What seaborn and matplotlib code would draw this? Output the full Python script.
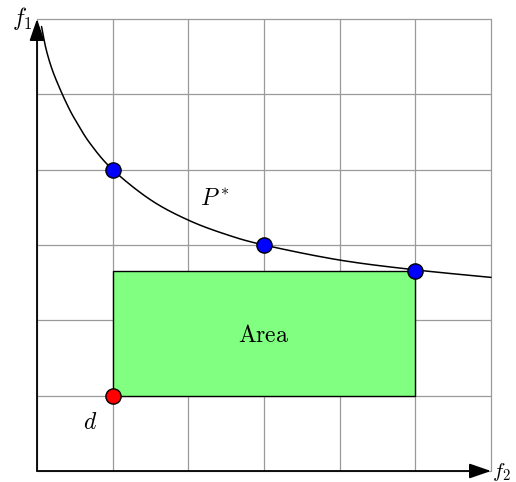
import numpy as np
import pandas as pd
import matplotlib
matplotlib.use("Agg")
import matplotlib.pyplot as plt
from matplotlib.patches import Rectangle
import seaborn as sns

# Pareto front P* (f2, f1)
front_f2 = [0.06, 0.12, 0.2, 0.3, 0.4, 0.5, 0.7, 1.0, 1.5, 2.0, 2.5, 3.0, 4.0, 5.0, 6.0]
front_f1 = [5.9, 5.6, 5.33, 5.08, 4.86, 4.67, 4.35, 4.0, 3.6, 3.33, 3.14, 3.0, 2.8, 2.67, 2.57]

# highlighted solutions on the front
sol_f2 = [1.0, 3.0, 5.0]
sol_f1 = [4.0, 3.0, 2.65]

# reference point d
ref_f2 = [1.0]
ref_f1 = [1.0]

grid_ticks = [0, 1, 2, 3, 4, 5, 6]


def catmull_rom(xs, ys, n=20):
    """Smooth polyline through the given points."""
    p = np.column_stack([xs, ys]).astype(float)
    p = np.vstack([2 * p[0] - p[1], p, 2 * p[-1] - p[-2]])
    out = []
    for i in range(1, len(p) - 2):
        p0, p1, p2, p3 = p[i - 1], p[i], p[i + 1], p[i + 2]
        t = np.linspace(0, 1, n, endpoint=False)[:, None]
        seg = 0.5 * ((2 * p1) + (-p0 + p2) * t + (2 * p0 - 5 * p1 + 4 * p2 - p3) * t ** 2
                     + (-p0 + 3 * p1 - 3 * p2 + p3) * t ** 3)
        out.append(seg)
    out.append(p[-2][None, :])
    out = np.vstack(out)
    return out[:, 0], out[:, 1]


sns.set_theme(style="white")
plt.rcParams["mathtext.fontset"] = "cm"
plt.rcParams["font.family"] = ["DejaVu Serif"]
plt.rcParams["text.color"] = "black"

fig = plt.figure(figsize=(5.16, 4.82), dpi=100)
ax = fig.add_axes([37 / 516, 11 / 482, 454 / 516, 452 / 482])
ax.set_xlim(0, 6)
ax.set_ylim(0, 6)
for s in ax.spines.values():
    s.set_visible(False)
ax.set_xticks(grid_ticks)
ax.set_yticks(grid_ticks)
ax.tick_params(length=0, labelbottom=False, labelleft=False)
ax.grid(True, color="#9a9a9a", linewidth=0.9)
for gl in ax.get_xgridlines() + ax.get_ygridlines():
    gl.set_clip_on(False)
ax.set_xlabel("")
ax.set_ylabel("")

# dominated area between d and the front
ax.add_patch(Rectangle((ref_f2[0], ref_f1[0]), sol_f2[-1] - ref_f2[0], sol_f1[-1] - ref_f1[0],
                       facecolor="#80ff80", edgecolor="black", linewidth=1.0, zorder=2))

cx, cy = catmull_rom(front_f2, front_f1)
curve = pd.DataFrame({"f2": cx, "f1": cy})
sns.lineplot(data=curve, x="f2", y="f1", sort=False, color="black", linewidth=1.1,
             ax=ax, zorder=3, clip_on=False)

# axes with arrow heads
arrow = dict(arrowstyle="-|>,head_length=1.1,head_width=0.38", color="black",
             linewidth=1.3, shrinkA=0, shrinkB=0)
ax.annotate("", xy=(0, 6), xytext=(0, 0), arrowprops=arrow, annotation_clip=False, zorder=4)
ax.annotate("", xy=(6, 0), xytext=(0, 0), arrowprops=arrow, annotation_clip=False, zorder=4)

sns.scatterplot(x=sol_f2, y=sol_f1, color="#0000ff", edgecolor="black", linewidth=1.0,
                s=120, ax=ax, zorder=5, clip_on=False)
sns.scatterplot(x=ref_f2, y=ref_f1, color="#ff0000", edgecolor="black", linewidth=1.0,
                s=120, ax=ax, zorder=5, clip_on=False)

fs = 17
ax.text(3.0, 1.8, r"$\mathrm{Area}$", fontsize=fs, ha="center", va="center", zorder=6)
ax.text(2.35, 3.62, r"$P^*$", fontsize=fs, ha="center", va="center", zorder=6)
ax.text(0.7, 0.65, r"$d$", fontsize=fs, ha="center", va="center", zorder=6)
ax.text(-0.06, 6.0, r"$f_1$", fontsize=fs, ha="right", va="center", zorder=6)
ax.text(6.01, -0.01, r"$f_2$", fontsize=15, ha="left", va="center", zorder=6)

fig.savefig("out.png", dpi=100)
